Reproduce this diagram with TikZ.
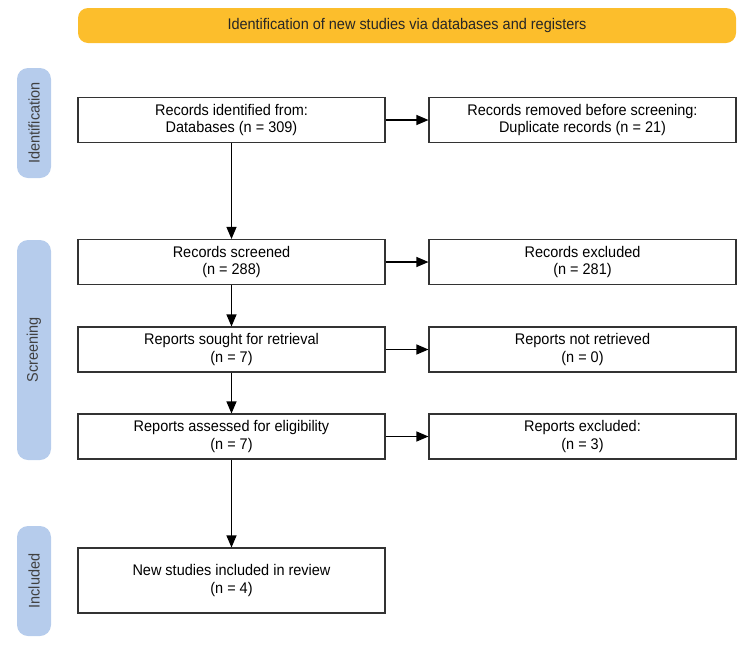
\documentclass[tikz,border=0pt]{standalone}
\usepackage{fontspec}
\setmainfont[FakeStretch=0.94]{Liberation Sans}
\usetikzlibrary{arrows.meta}
\definecolor{bannerorange}{HTML}{FCBE2C}
\definecolor{sideblue}{HTML}{B6CCEC}
\definecolor{boxline}{HTML}{333333}
\tikzset{
  flowbox/.style={draw=boxline, line width=1.1pt, fill=white, minimum width=307pt, minimum height=45pt, align=center, inner sep=2pt, font=\fontsize{15.4}{17.5}\selectfont},
  sidebox/.style={fill=sideblue, rounded corners=11pt, rotate=90, minimum height=34pt, inner sep=0pt, font=\fontsize{15.4}{17.5}\selectfont, text=black!75},
  banner/.style={fill=bannerorange, rounded corners=10pt, minimum width=658pt, minimum height=35pt, inner sep=0pt, font=\fontsize{15.4}{17.5}\selectfont, text=black!85},
  flowarrow/.style={-{Triangle[length=12pt,width=10pt]}, line width=1.1pt, black}
}
\begin{document}
\begin{tikzpicture}[x=1pt,y=-1pt]
\useasboundingbox (0,0) rectangle (750,646);
\node[banner] (top) at (407,25.5) {Identification of new studies via databases and registers};
\node[sidebox, minimum width=110pt] (sid) at (34,123) {Identification};
\node[sidebox, minimum width=220pt] (sscr) at (34,350) {Screening};
\node[sidebox, minimum width=110pt] (sinc) at (34,581) {Included};

\node[flowbox] (b1) at (231.5,120) {Records identified from:\\Databases (n = 309)};
\node[flowbox] (r1) at (582.5,120) {Records removed before screening:\\Duplicate records (n = 21)};
\node[flowbox] (b2) at (231.5,262) {Records screened\\(n = 288)};
\node[flowbox] (r2) at (582.5,262) {Records excluded\\(n = 281)};
\node[flowbox] (b3) at (231.5,349.5) {Reports sought for retrieval\\(n = 7)};
\node[flowbox] (r3) at (582.5,349.5) {Reports not retrieved\\(n = 0)};
\node[flowbox] (b4) at (231.5,436.5) {Reports assessed for eligibility\\(n = 7)};
\node[flowbox] (r4) at (582.5,436.5) {Reports excluded:\\(n = 3)};
\node[flowbox, minimum height=65pt] (b5) at (231.5,580.5) {New studies included in review\\(n = 4)};

\draw[flowarrow] (b1) -- (r1);
\draw[flowarrow] (b2) -- (r2);
\draw[flowarrow] (b3) -- (r3);
\draw[flowarrow] (b4) -- (r4);
\draw[flowarrow] (b1) -- (b2);
\draw[flowarrow] (b2) -- (b3);
\draw[flowarrow] (b3) -- (b4);
\draw[flowarrow] (b4) -- (b5);
\end{tikzpicture}
\end{document}
